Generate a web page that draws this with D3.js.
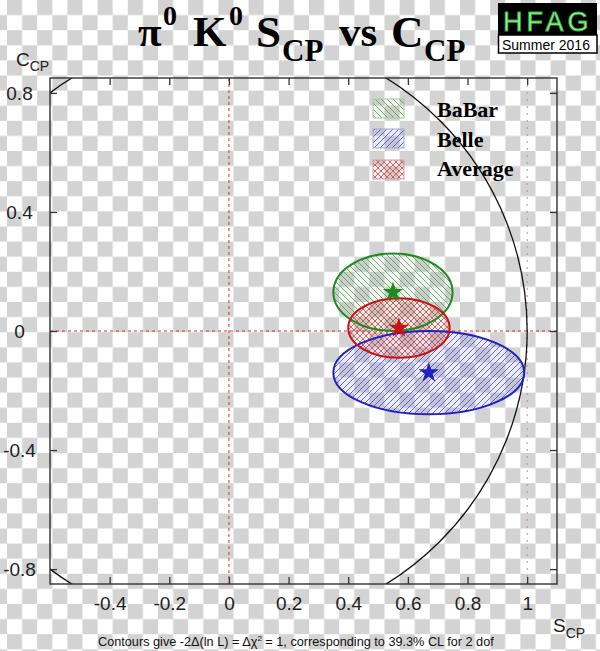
<!DOCTYPE html>
<html>
<head>
<meta charset="utf-8">
<script src="https://cdn.jsdelivr.net/npm/d3@7"></script>
<style>
  html, body { margin: 0; padding: 0; background: #fff; }
  svg { display: block; }
</style>
</head>
<body>
<div id="chart"></div>
<script>
// ---- data ----
const measurements = ["BaBar", "Belle", "Average"];
const sValues = [0.55, 0.67, 0.57];
const sErrors = [0.20, 0.32, 0.17];
const cValues = [0.13, -0.14, 0.01];
const cErrors = [0.13, 0.14, 0.10];
const xTicks = [-0.4, -0.2, 0, 0.2, 0.4, 0.6, 0.8, 1];
const yTicks = [-0.8, -0.4, 0, 0.4, 0.8];
const xDomain = [-0.6, 1.1];
const yDomain = [-0.85, 0.85];

// ---- styles ----
const strokeColors = ["#1f8a1f", "#2222c0", "#cc1111"];
const hatchColors = ["#6f9a6f", "#5a5ad0", "#c25a5a"];
const tintColors = ["rgba(60,160,60,0.08)", "rgba(70,70,220,0.10)", "rgba(220,60,60,0.08)"];
const legendBorder = ["#a8c8a8", "#a8a8d8", "#d8a0a0"];

const W = 600, H = 651;
const svg = d3.select("#chart").append("svg").attr("width", W).attr("height", H);
const defs = svg.append("defs");

// checkerboard background
const cb = 15.1;
const chk = defs.append("pattern").attr("id", "checker")
  .attr("patternUnits", "userSpaceOnUse")
  .attr("width", cb * 2).attr("height", cb * 2)
  .attr("x", 7).attr("y", 0);
chk.append("rect").attr("width", cb * 2).attr("height", cb * 2).attr("fill", "#ffffff");
chk.append("rect").attr("x", 0).attr("y", 0).attr("width", cb).attr("height", cb).attr("fill", "#d3d3d3");
chk.append("rect").attr("x", cb).attr("y", cb).attr("width", cb).attr("height", cb).attr("fill", "#d3d3d3");
svg.append("rect").attr("width", W).attr("height", H).attr("fill", "url(#checker)");

// hatch patterns
function hatch(id, color, tint, angles) {
  const p = defs.append("pattern").attr("id", id)
    .attr("patternUnits", "userSpaceOnUse").attr("width", 6).attr("height", 6);
  p.append("rect").attr("width", 6).attr("height", 6).attr("fill", tint);
  angles.forEach(a => {
    if (a === "back") {
      p.append("path").attr("d", "M0,0 L6,6 M-3,3 L3,9 M3,-3 L9,3")
        .attr("stroke", color).attr("stroke-width", 0.9).attr("fill", "none");
    } else {
      p.append("path").attr("d", "M0,6 L6,0 M-3,3 L3,-3 M3,9 L9,3")
        .attr("stroke", color).attr("stroke-width", 0.9).attr("fill", "none");
    }
  });
}
hatch("h0", hatchColors[0], tintColors[0], ["back"]);
hatch("h1", hatchColors[1], tintColors[1], ["fwd"]);
hatch("h2", hatchColors[2], tintColors[2], ["back", "fwd"]);

const pLeft = 50, pRight = 557, pTop = 78, pBottom = 584;
const x = d3.scaleLinear().domain(xDomain).range([pLeft, pRight]);
const y = d3.scaleLinear().domain(yDomain).range([pBottom, pTop]);

defs.append("clipPath").attr("id", "plotclip")
  .append("rect").attr("x", pLeft).attr("y", pTop).attr("width", pRight - pLeft).attr("height", pBottom - pTop);

const plot = svg.append("g").attr("clip-path", "url(#plotclip)");

// reference lines
plot.append("line").attr("x1", x(0)).attr("x2", x(0)).attr("y1", pTop).attr("y2", pBottom)
  .attr("stroke", "#cc3333").attr("stroke-width", 1).attr("stroke-dasharray", "3,3");
plot.append("line").attr("x1", pLeft).attr("x2", pRight).attr("y1", y(0)).attr("y2", y(0))
  .attr("stroke", "#cc3333").attr("stroke-width", 1).attr("stroke-dasharray", "3,3");
plot.append("line").attr("x1", x(1)).attr("x2", x(1)).attr("y1", pTop).attr("y2", pBottom)
  .attr("stroke", "#b89090").attr("stroke-width", 1).attr("stroke-dasharray", "2,5");

// physical boundary circle S^2 + C^2 = 1
plot.append("ellipse").attr("cx", x(0)).attr("cy", y(0))
  .attr("rx", x(1) - x(0)).attr("ry", y(0) - y(1))
  .attr("fill", "none").attr("stroke", "#111").attr("stroke-width", 1.3);

// ellipses: fills
const idx = [0, 1, 2];
idx.forEach(i => {
  plot.append("ellipse")
    .attr("cx", x(sValues[i])).attr("cy", y(cValues[i]))
    .attr("rx", x(sValues[i] + sErrors[i]) - x(sValues[i]))
    .attr("ry", y(cValues[i]) - y(cValues[i] + cErrors[i]))
    .attr("fill", `url(#h${i})`);
});
// ellipses: outlines
idx.forEach(i => {
  plot.append("ellipse")
    .attr("cx", x(sValues[i])).attr("cy", y(cValues[i]))
    .attr("rx", x(sValues[i] + sErrors[i]) - x(sValues[i]))
    .attr("ry", y(cValues[i]) - y(cValues[i] + cErrors[i]))
    .attr("fill", "none").attr("stroke", strokeColors[i]).attr("stroke-width", 2);
});
// central values
idx.forEach(i => {
  plot.append("path")
    .attr("d", d3.symbol(d3.symbolStar, 130)())
    .attr("transform", `translate(${x(sValues[i])},${y(cValues[i])})`)
    .attr("fill", strokeColors[i]);
});

// frame
svg.append("rect").attr("x", pLeft).attr("y", pTop).attr("width", pRight - pLeft).attr("height", pBottom - pTop)
  .attr("fill", "none").attr("stroke", "#333").attr("stroke-width", 1.4);

// axes (ticks inward on all sides)
const tickLen = 7;
const fmt = d => String(+(+d).toFixed(1));
const axB = svg.append("g").attr("transform", `translate(0,${pBottom})`)
  .call(d3.axisBottom(x).tickValues(xTicks).tickSizeInner(-tickLen).tickSizeOuter(0).tickFormat(fmt));
const axT = svg.append("g").attr("transform", `translate(0,${pTop})`)
  .call(d3.axisTop(x).tickValues(xTicks).tickSizeInner(-tickLen).tickSizeOuter(0).tickFormat(""));
const axL = svg.append("g").attr("transform", `translate(${pLeft},0)`)
  .call(d3.axisLeft(y).tickValues(yTicks).tickSizeInner(-tickLen).tickSizeOuter(0).tickFormat(fmt));
const axR = svg.append("g").attr("transform", `translate(${pRight},0)`)
  .call(d3.axisRight(y).tickValues(yTicks).tickSizeInner(-tickLen).tickSizeOuter(0).tickFormat(""));
[axB, axT, axL, axR].forEach(a => {
  a.select(".domain").remove();
  a.selectAll(".tick line").attr("stroke", "#333").attr("stroke-width", 1.3);
});
const sans = "Liberation Sans, Arial, sans-serif";
axB.selectAll(".tick text").attr("font-family", sans)
  .attr("font-size", 19).attr("fill", "#222").attr("dy", null).attr("y", 26);
axL.selectAll(".tick text").attr("font-family", sans)
  .attr("font-size", 19).attr("fill", "#222").attr("text-anchor", "middle")
  .attr("x", 19.5 - pLeft).attr("dy", "0.35em");

// axis titles
const cl = svg.append("text").attr("x", 16).attr("y", 66).attr("font-family", sans).attr("font-size", 19).attr("fill", "#222");
cl.append("tspan").text("C");
cl.append("tspan").attr("font-size", 14).attr("dy", 5).text("CP");
const sl = svg.append("text").attr("x", 553).attr("y", 632).attr("font-family", sans).attr("font-size", 19).attr("fill", "#222");
sl.append("tspan").text("S");
sl.append("tspan").attr("font-size", 14).attr("dy", 6).text("CP");

// title
const serif = "Liberation Serif, Times New Roman, serif";
const titleParts = [
  { t: "π", x: 138, y: 46, s: 43 },
  { t: "0", x: 163, y: 25, s: 28 },
  { t: "K", x: 193, y: 46, s: 43 },
  { t: "0", x: 229, y: 25, s: 28 },
  { t: "S", x: 256, y: 47, s: 45 },
  { t: "CP", x: 282, y: 61, s: 31 },
  { t: "vs", x: 339, y: 46, s: 43 },
  { t: "C", x: 391, y: 47, s: 45 },
  { t: "CP", x: 424, y: 61, s: 31 }
];
titleParts.forEach(p => {
  svg.append("text").attr("x", p.x).attr("y", p.y).attr("font-family", serif)
    .attr("font-weight", "bold").attr("font-size", p.s).attr("fill", "#000").text(p.t);
});

// HFAG logo
svg.append("rect").attr("x", 498).attr("y", 3).attr("width", 99).attr("height", 32).attr("fill", "#000");
svg.append("rect").attr("x", 498.5).attr("y", 35).attr("width", 98.5).attr("height", 18)
  .attr("fill", "#fff").attr("stroke", "#000").attr("stroke-width", 1.5);
svg.append("text").attr("x", 503).attr("y", 31).attr("font-family", sans).attr("font-size", 27)
  .attr("letter-spacing", 4).attr("fill", "#8dff8d").attr("stroke", "#3ca83c").attr("stroke-width", 0.8)
  .text("HFAG");
svg.append("text").attr("x", 502).attr("y", 50).attr("font-family", sans).attr("font-size", 14)
  .attr("fill", "#000").text("Summer 2016");

// legend
const legY = [99, 129, 160];
const legTextY = [117, 147, 176];
idx.forEach(i => {
  svg.append("rect").attr("x", 373).attr("y", legY[i]).attr("width", 31).attr("height", 19)
    .attr("fill", `url(#h${i})`).attr("stroke", legendBorder[i]).attr("stroke-width", 1);
  svg.append("text").attr("x", 437).attr("y", legTextY[i]).attr("font-family", serif)
    .attr("font-weight", "bold").attr("font-size", 22).attr("fill", "#000").text(measurements[i]);
});

// footnote
svg.append("text").attr("x", 98).attr("y", 646).attr("font-family", sans).attr("font-size", 12.7)
  .attr("fill", "#111")
  .html('Contours give -2Δ(ln L) = Δχ<tspan dy="-5" font-size="8">2</tspan><tspan dy="5"> = 1, corresponding to 39.3% CL for 2 dof</tspan>');
</script>
</body>
</html>
